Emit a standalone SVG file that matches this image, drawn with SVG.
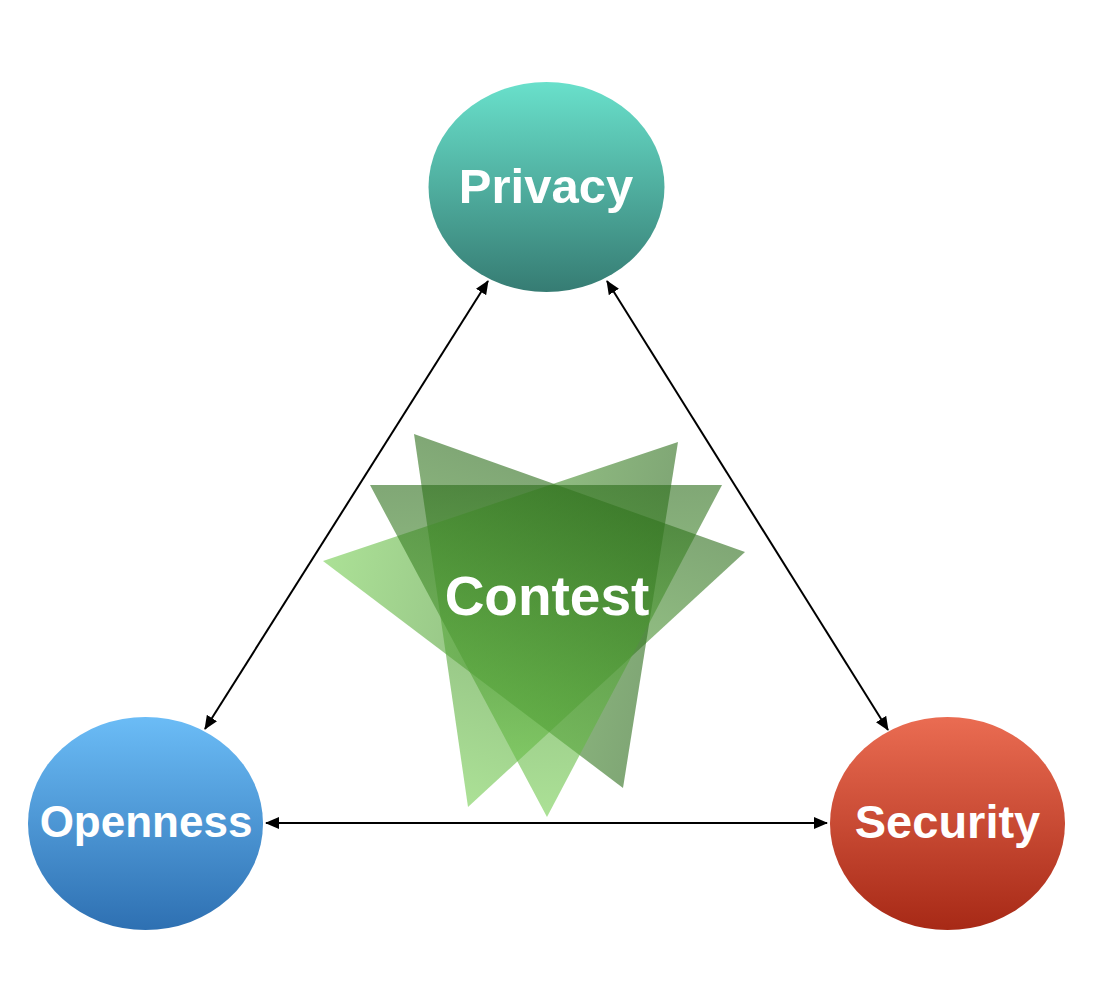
<svg xmlns="http://www.w3.org/2000/svg" width="1114" height="1004" viewBox="0 0 1114 1004">
  <style>
    .label { font-family: "Liberation Sans", Arial, sans-serif; font-weight: bold; fill: #ffffff; text-anchor: middle; }
    .conn { stroke: #000000; stroke-width: 2; fill: none; marker-start: url(#arrow); marker-end: url(#arrow); }
    .tri { fill-opacity: 0.6; }
  </style>
  <defs>
    <marker id="arrow" viewBox="0 0 14 12" refX="13" refY="6" markerWidth="14" markerHeight="12" markerUnits="userSpaceOnUse" orient="auto-start-reverse">
      <path d="M0,0 L14,6 L0,12 z" fill="#000000"/>
    </marker>
    <linearGradient id="gPrivacy" x1="0" y1="0" x2="0" y2="1">
      <stop offset="0" stop-color="#69e0cb"/>
      <stop offset="1" stop-color="#367c73"/>
    </linearGradient>
    <linearGradient id="gOpenness" x1="0" y1="0" x2="0" y2="1">
      <stop offset="0" stop-color="#6bbcf6"/>
      <stop offset="1" stop-color="#2e70b2"/>
    </linearGradient>
    <linearGradient id="gSecurity" x1="0" y1="0" x2="0" y2="1">
      <stop offset="0" stop-color="#ea6c52"/>
      <stop offset="1" stop-color="#a72916"/>
    </linearGradient>
    <linearGradient id="gTriA" gradientUnits="userSpaceOnUse" x1="546" y1="485" x2="547" y2="817">
      <stop offset="0" stop-color="#2c6d1a"/>
      <stop offset="1" stop-color="#74cd50"/>
    </linearGradient>
    <linearGradient id="gTriB" gradientUnits="userSpaceOnUse" x1="579" y1="493" x2="468" y2="807">
      <stop offset="0" stop-color="#2c6d1a"/>
      <stop offset="1" stop-color="#74cd50"/>
    </linearGradient>
    <linearGradient id="gTriC" gradientUnits="userSpaceOnUse" x1="650" y1="615" x2="323" y2="561">
      <stop offset="0" stop-color="#2c6d1a"/>
      <stop offset="1" stop-color="#74cd50"/>
    </linearGradient>
  </defs>

  <g id="connectors">
    <line class="conn" x1="488" y1="281" x2="205" y2="729"/>
    <line class="conn" x1="607" y1="281" x2="888" y2="730"/>
    <line class="conn" x1="266" y1="823" x2="827" y2="823"/>
  </g>

  <g id="contest">
    <polygon class="tri" fill="url(#gTriB)" points="414,434 745,552 468,807"/>
    <polygon class="tri" fill="url(#gTriC)" points="678,442 623,788 323,561"/>
    <polygon class="tri" fill="url(#gTriA)" points="370,485 722,485 547,817"/>
    <text class="label" x="547" y="615" font-size="55">Contest</text>
  </g>

  <g id="privacy">
    <ellipse cx="546.5" cy="187" rx="118" ry="105" fill="url(#gPrivacy)"/>
    <text class="label" x="546" y="203" font-size="49">Privacy</text>
  </g>

  <g id="openness">
    <ellipse cx="145.5" cy="823.5" rx="117.5" ry="106.5" fill="url(#gOpenness)"/>
    <text class="label" x="146" y="837" font-size="44">Openness</text>
  </g>

  <g id="security">
    <ellipse cx="947.5" cy="823.5" rx="117.5" ry="106.5" fill="url(#gSecurity)"/>
    <text class="label" x="947.5" y="838" font-size="47">Security</text>
  </g>
</svg>
